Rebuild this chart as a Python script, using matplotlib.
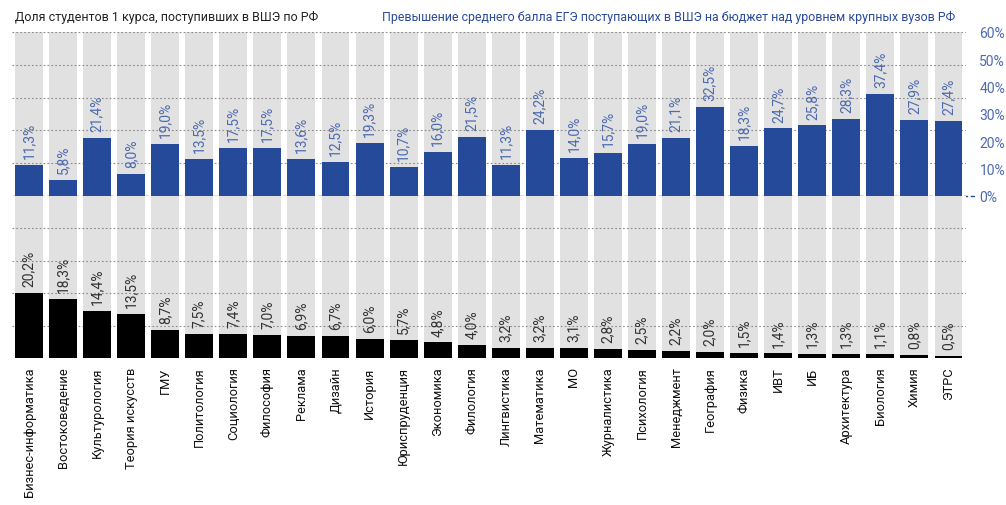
import matplotlib
matplotlib.use("Agg")
import matplotlib.pyplot as plt
from matplotlib.ticker import FuncFormatter

plt.rcParams['font.family'] = ['Roboto', 'DejaVu Sans']

categories = ['Бизнес-информатика', 'Востоковедение', 'Культурология', 'Теория искусств',
              'ГМУ', 'Политология', 'Социология', 'Философия', 'Реклама', 'Дизайн',
              'История', 'Юриспруденция', 'Экономика', 'Филология', 'Лингвистика',
              'Математика', 'МО', 'Журналистика', 'Психология', 'Менеджмент', 'География',
              'Физика', 'ИВТ', 'ИБ', 'Архитектура', 'Биология', 'Химия', 'ЭТРС']
ege_excess = [11.3, 5.8, 21.4, 8.0, 19.0, 13.5, 17.5, 17.5, 13.6, 12.5, 19.3, 10.7, 16.0, 21.5,
              11.3, 24.2, 14.0, 15.7, 19.0, 21.1, 32.5, 18.3, 24.7, 25.8, 28.3, 37.4, 27.9, 27.4]
share_rf = [20.2, 18.3, 14.4, 13.5, 8.7, 7.5, 7.4, 7.0, 6.9, 6.7, 6.0, 5.7, 4.8, 4.0,
            3.2, 3.2, 3.1, 2.8, 2.5, 2.2, 2.0, 1.5, 1.4, 1.3, 1.3, 1.1, 0.8, 0.5]

top_max = 60
bot_max = 50
blue = '#254a9a'
blue_txt = '#4d6ab0'
gray_bg = '#e1e1e1'
grid_c = '#8a8a8a'

x = list(range(len(categories)))
W, H = 1006, 506
fig = plt.figure(figsize=(W / 100, H / 100), dpi=100)

left = 12 / W
width = (965.5 - 12) / W
ax1 = fig.add_axes([left, (H - 197) / H, width, 164 / H])
ax2 = fig.add_axes([left, (H - 359) / H, width, 162 / H])

# верхняя панель
ax1.bar(x, [top_max] * len(x), width=0.82, color=gray_bg, zorder=1)
for k in range(1, 6):
    ax1.axhline(top_max * k / 5, color=grid_c, lw=0.8, ls=(0, (1.5, 2)), zorder=2)
ax1.bar(x, ege_excess, width=0.82, color=blue, zorder=3)
for xi, v in zip(x, ege_excess):
    ax1.annotate(f"{v:.1f}%".replace('.', ','), (xi, v), xytext=(0, 5),
                 textcoords='offset points', rotation=90, ha='center', va='bottom',
                 color=blue_txt, fontsize=10, zorder=4)
ax1.plot([-0.5, 27.78], [0, 0], color=blue, lw=1, ls=(0, (3, 2)), clip_on=False, zorder=5)
ax1.set_xlim(-0.5, 27.5)
ax1.set_ylim(0, top_max)
ax1.yaxis.tick_right()
ax1.set_yticks(range(0, 61, 10))
ax1.yaxis.set_major_formatter(FuncFormatter(lambda v, p: f"{int(v)}%"))
ax1.tick_params(axis='y', length=0, pad=10, labelcolor=blue_txt, labelsize=10)
ax1.set_xticks([])
for s in ax1.spines.values():
    s.set_visible(False)

# нижняя панель
ax2.bar(x, [bot_max] * len(x), width=0.82, color=gray_bg, zorder=1)
for k in range(0, 5):
    ax2.axhline(bot_max * k / 5, color=grid_c, lw=0.8, ls=(0, (1.5, 2)), zorder=2)
ax2.bar(x, share_rf, width=0.82, color='black', zorder=3)
for xi, v in zip(x, share_rf):
    ax2.annotate(f"{v:.1f}%".replace('.', ','), (xi, v), xytext=(0, 5),
                 textcoords='offset points', rotation=90, ha='center', va='bottom',
                 color='#333333', fontsize=10, zorder=4)
ax2.set_xlim(-0.5, 27.5)
ax2.set_ylim(0, bot_max)
ax2.set_yticks([])
ax2.set_xticks(x)
ax2.set_xticklabels(categories, rotation=90, fontsize=9.3, color='#111111')
ax2.tick_params(axis='x', length=0, pad=6)
for s in ax2.spines.values():
    s.set_visible(False)

fig.text(15 / W, 1 - 17 / H, "Доля студентов 1 курса, поступивших в ВШЭ по РФ",
         ha='left', va='center', fontsize=9, color='#222222')
fig.text(955 / W, 1 - 17 / H,
         "Превышение среднего балла ЕГЭ поступающих в ВШЭ на бюджет над уровнем крупных вузов РФ",
         ha='right', va='center', fontsize=8.9, color='#2a4a9a')

fig.savefig('out.png', dpi=100)
